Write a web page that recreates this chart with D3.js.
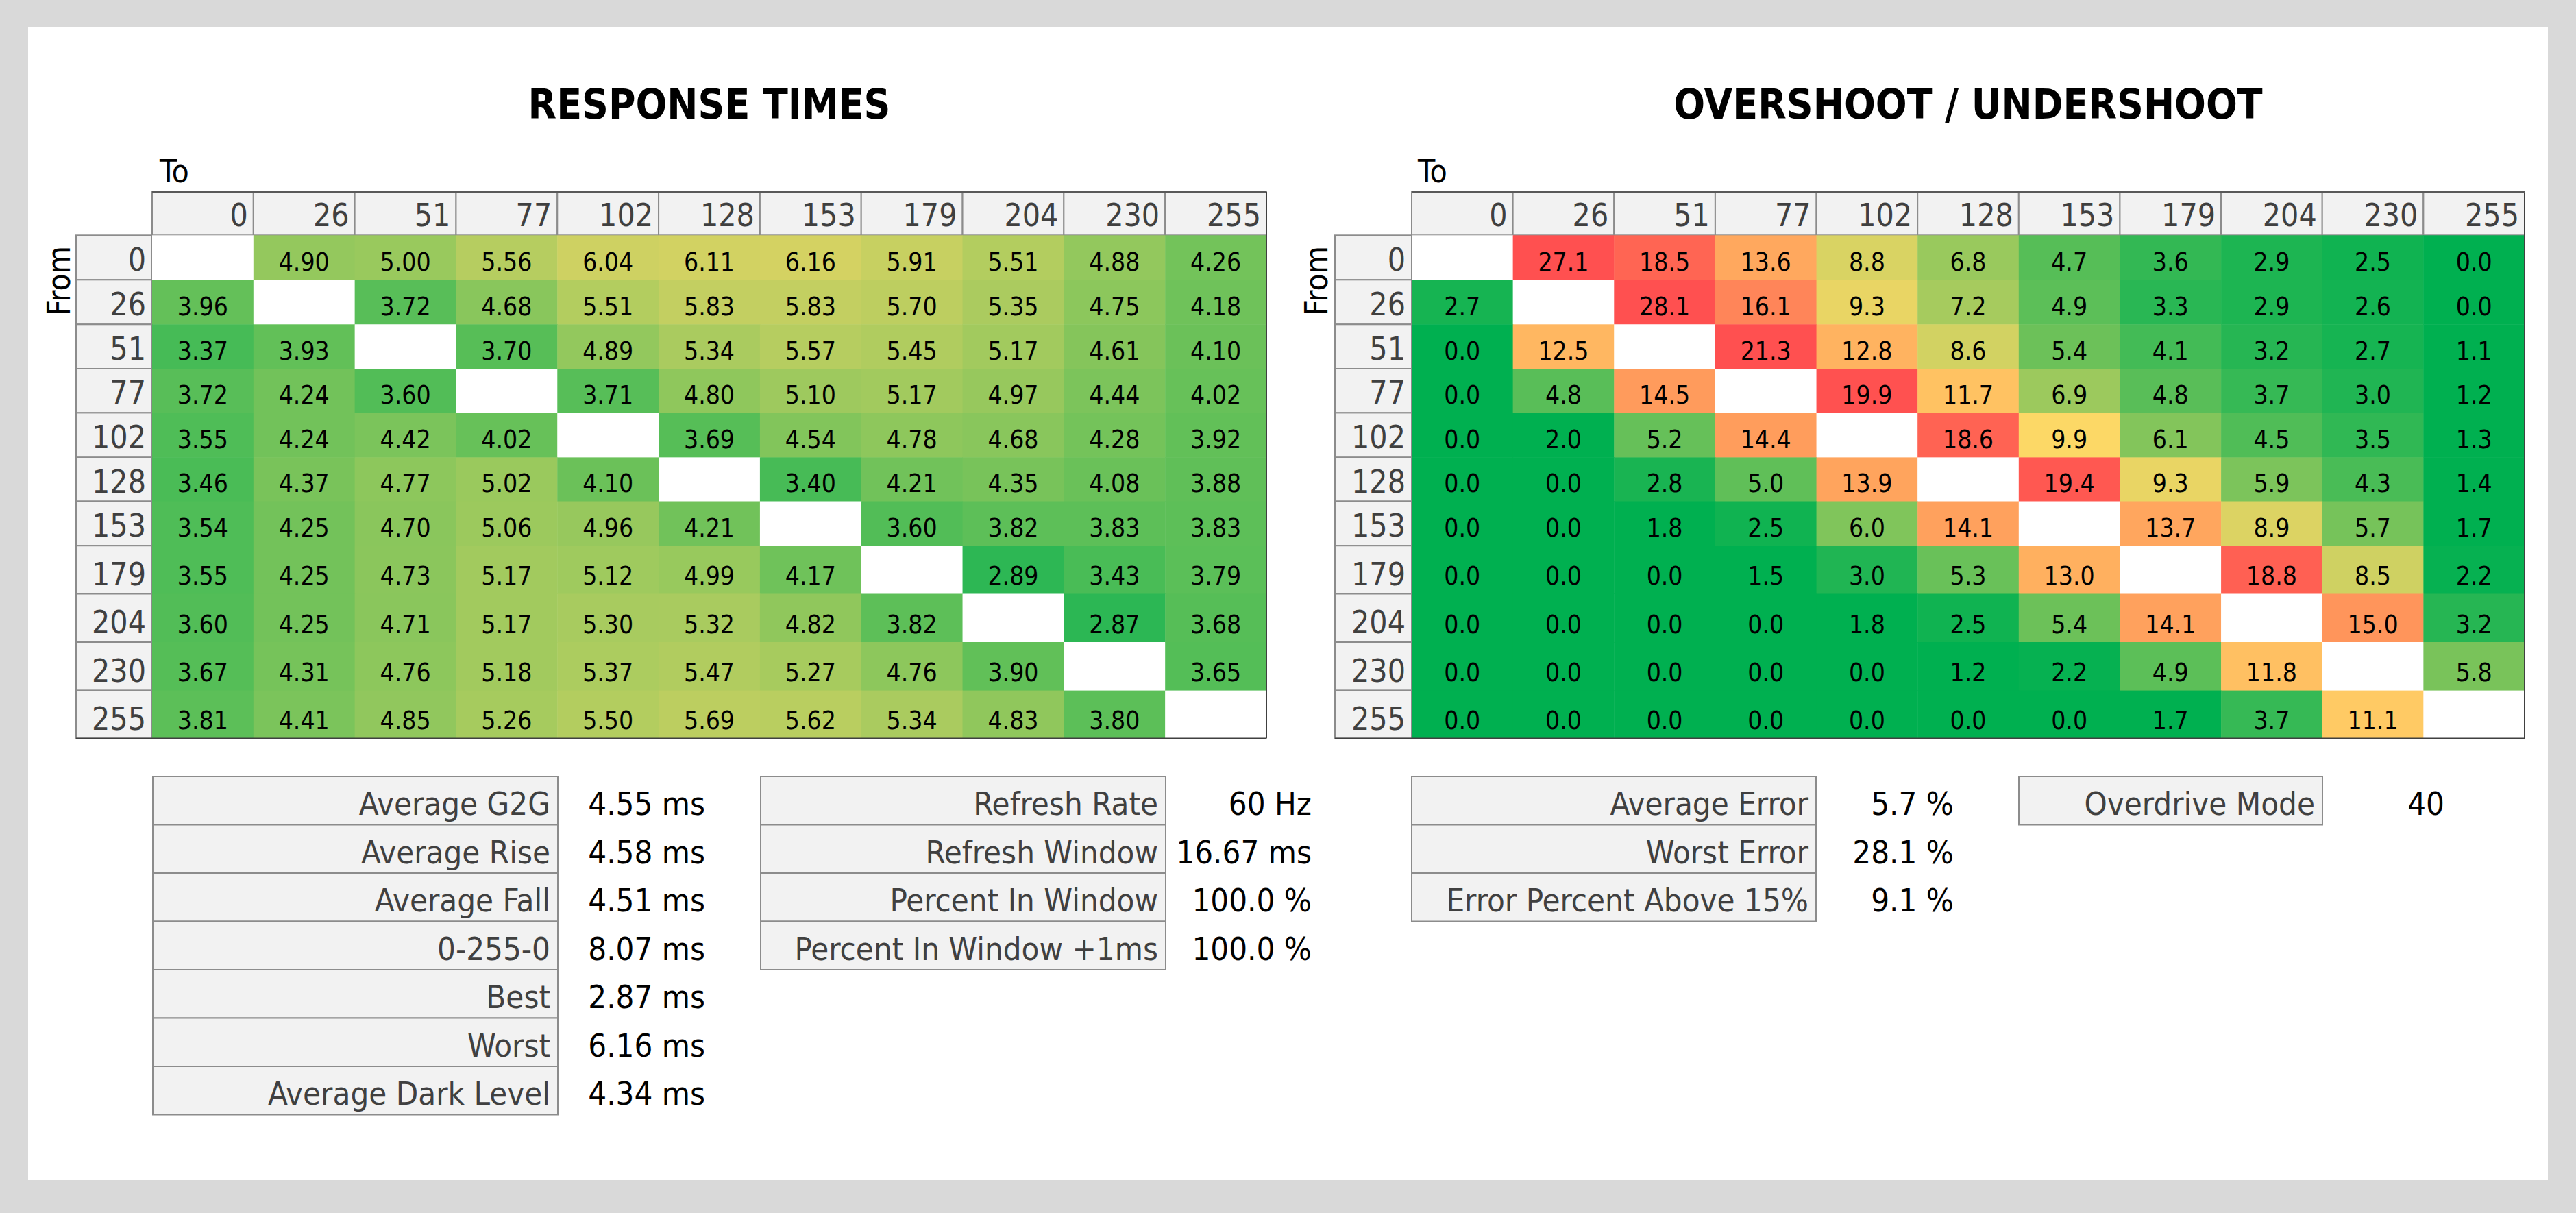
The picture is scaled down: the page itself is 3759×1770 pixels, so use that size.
<!DOCTYPE html>
<html><head><meta charset="utf-8">
<script src="https://cdn.jsdelivr.net/npm/d3@7"></script>
<style>
html,body{margin:0;padding:0;background:#d9d9d9;}
svg{display:block;}
text{font-family:'DejaVu Sans Condensed','DejaVu Sans',sans-serif;}
</style>
</head><body>
<svg id="c" width="3759" height="1770"></svg>
<script>
// ---------- DATA ----------
const levels = [0, 26, 51, 77, 102, 128, 153, 179, 204, 230, 255];

// Response times (ms): rows = From, columns = To
const responseTimes = [
  [null, 4.90, 5.00, 5.56, 6.04, 6.11, 6.16, 5.91, 5.51, 4.88, 4.26],
  [3.96, null, 3.72, 4.68, 5.51, 5.83, 5.83, 5.70, 5.35, 4.75, 4.18],
  [3.37, 3.93, null, 3.70, 4.89, 5.34, 5.57, 5.45, 5.17, 4.61, 4.10],
  [3.72, 4.24, 3.60, null, 3.71, 4.80, 5.10, 5.17, 4.97, 4.44, 4.02],
  [3.55, 4.24, 4.42, 4.02, null, 3.69, 4.54, 4.78, 4.68, 4.28, 3.92],
  [3.46, 4.37, 4.77, 5.02, 4.10, null, 3.40, 4.21, 4.35, 4.08, 3.88],
  [3.54, 4.25, 4.70, 5.06, 4.96, 4.21, null, 3.60, 3.82, 3.83, 3.83],
  [3.55, 4.25, 4.73, 5.17, 5.12, 4.99, 4.17, null, 2.89, 3.43, 3.79],
  [3.60, 4.25, 4.71, 5.17, 5.30, 5.32, 4.82, 3.82, null, 2.87, 3.68],
  [3.67, 4.31, 4.76, 5.18, 5.37, 5.47, 5.27, 4.76, 3.90, null, 3.65],
  [3.81, 4.41, 4.85, 5.26, 5.50, 5.69, 5.62, 5.34, 4.83, 3.80, null]
];

// Overshoot / undershoot (%): rows = From, columns = To
const overshoot = [
  [null, 27.1, 18.5, 13.6, 8.8, 6.8, 4.7, 3.6, 2.9, 2.5, 0.0],
  [2.7, null, 28.1, 16.1, 9.3, 7.2, 4.9, 3.3, 2.9, 2.6, 0.0],
  [0.0, 12.5, null, 21.3, 12.8, 8.6, 5.4, 4.1, 3.2, 2.7, 1.1],
  [0.0, 4.8, 14.5, null, 19.9, 11.7, 6.9, 4.8, 3.7, 3.0, 1.2],
  [0.0, 2.0, 5.2, 14.4, null, 18.6, 9.9, 6.1, 4.5, 3.5, 1.3],
  [0.0, 0.0, 2.8, 5.0, 13.9, null, 19.4, 9.3, 5.9, 4.3, 1.4],
  [0.0, 0.0, 1.8, 2.5, 6.0, 14.1, null, 13.7, 8.9, 5.7, 1.7],
  [0.0, 0.0, 0.0, 1.5, 3.0, 5.3, 13.0, null, 18.8, 8.5, 2.2],
  [0.0, 0.0, 0.0, 0.0, 1.8, 2.5, 5.4, 14.1, null, 15.0, 3.2],
  [0.0, 0.0, 0.0, 0.0, 0.0, 1.2, 2.2, 4.9, 11.8, null, 5.8],
  [0.0, 0.0, 0.0, 0.0, 0.0, 0.0, 0.0, 1.7, 3.7, 11.1, null]
];

const rtStatLabels  = ["Average G2G", "Average Rise", "Average Fall", "0-255-0", "Best", "Worst", "Average Dark Level"];
const rtStatValues  = ["4.55 ms", "4.58 ms", "4.51 ms", "8.07 ms", "2.87 ms", "6.16 ms", "4.34 ms"];
const refLabels     = ["Refresh Rate", "Refresh Window", "Percent In Window", "Percent In Window +1ms"];
const refValues     = ["60 Hz", "16.67 ms", "100.0 %", "100.0 %"];
const osStatLabels  = ["Average Error", "Worst Error", "Error Percent Above 15%"];
const osStatValues  = ["5.7 %", "28.1 %", "9.1 %"];
const odLabels      = ["Overdrive Mode"];
const odValues      = ["40"];

// ---------- LAYOUT ----------
const W = 3759, H = 1770;
const svg = d3.select("#c");
svg.append("rect").attr("x", 0).attr("y", 0).attr("width", W).attr("height", H).attr("fill", "#d9d9d9");
svg.append("rect").attr("x", 41).attr("y", 40).attr("width", 3677).attr("height", 1682).attr("fill", "#ffffff");

const headerTop = 280, headerBottom = 343.3;
const rowTops = [343.3, 408.3, 473.3, 538, 602.4, 667.4, 731.5, 796.2, 866.5, 937, 1007.6];
const gridBottom = 1077.6;
const yTop = d3.scaleOrdinal().domain(levels).range(rowTops);
const yBot = d3.scaleOrdinal().domain(levels).range(rowTops.slice(1).concat([gridBottom]));

const green = "#00b050", yellow = "#ffd966", red = "#ff5050";
const rtColor = d3.scaleLinear().domain([2.0, 7.0, 12.0]).range([green, yellow, red]).interpolate(d3.interpolateRgb).clamp(true);
const osColor = d3.scaleLinear().domain([2.0, 10.0, 20.0]).range([green, yellow, red]).interpolate(d3.interpolateRgb).clamp(true);

function heatmap(opt) {
  const g = svg.append("g");
  const x = d3.scaleBand().domain(levels).range([opt.x0, opt.x1]).padding(0);
  const bw = x.bandwidth();
  const labelLeft = opt.x0 - opt.labelW;

  // title
  g.append("text").attr("x", (opt.x0 + opt.x1) / 2).attr("y", 173)
    .attr("text-anchor", "middle").attr("font-size", 60).attr("font-weight", "bold")
    .attr("fill", "#000").text(opt.title);

  // "To" label
  g.append("text").attr("x", opt.x0 + opt.toDx).attr("y", 266)
    .attr("font-size", 46).attr("fill", "#000").text("To");

  // "From" label
  g.append("text").attr("transform", `translate(${opt.fromX},410) rotate(-90)`)
    .attr("text-anchor", "middle").attr("font-size", 46).attr("fill", "#000").text("From");

  // header cells
  g.selectAll(".hc").data(levels).join("rect")
    .attr("x", d => x(d)).attr("y", headerTop).attr("width", bw).attr("height", headerBottom - headerTop)
    .attr("fill", "#f2f2f2").attr("stroke", "#8c8c8c").attr("stroke-width", 2);
  g.selectAll(".ht").data(levels).join("text")
    .attr("x", d => x(d) + bw - 8).attr("y", headerBottom - 13)
    .attr("text-anchor", "end").attr("font-size", 46).attr("fill", "#404040").text(d => d);

  // row label cells
  g.selectAll(".rc").data(levels).join("rect")
    .attr("x", labelLeft).attr("y", d => yTop(d)).attr("width", opt.labelW).attr("height", d => yBot(d) - yTop(d))
    .attr("fill", "#f2f2f2").attr("stroke", "#8c8c8c").attr("stroke-width", 2);
  g.selectAll(".rt").data(levels).join("text")
    .attr("x", opt.x0 - 9).attr("y", d => yBot(d) - 13)
    .attr("text-anchor", "end").attr("font-size", 46).attr("fill", "#404040").text(d => d);

  // data cells
  const cells = [];
  opt.values.forEach((row, i) => row.forEach((v, j) => cells.push({from: levels[i], to: levels[j], v})));
  g.selectAll(".cell").data(cells).join("rect")
    .attr("x", d => x(d.to)).attr("y", d => yTop(d.from))
    .attr("width", bw + 0.5).attr("height", d => yBot(d.from) - yTop(d.from) + 0.5)
    .attr("fill", d => d.v == null ? "#ffffff" : opt.color(d.v));
  g.selectAll(".ct").data(cells.filter(d => d.v != null)).join("text")
    .attr("x", d => x(d.to) + bw / 2).attr("y", d => yBot(d.from) - 13.5)
    .attr("text-anchor", "middle").attr("font-size", 37).attr("fill", "#000")
    .text(d => opt.fmt(d.v));

  // outer border right & bottom
  g.append("line").attr("x1", opt.x1).attr("x2", opt.x1).attr("y1", headerTop).attr("y2", gridBottom)
    .attr("stroke", "#404040").attr("stroke-width", 2);
  g.append("line").attr("x1", labelLeft).attr("x2", opt.x1).attr("y1", gridBottom).attr("y2", gridBottom)
    .attr("stroke", "#404040").attr("stroke-width", 2);
  g.append("line").attr("x1", opt.x0).attr("x2", opt.x1).attr("y1", headerTop).attr("y2", headerTop)
    .attr("stroke", "#595959").attr("stroke-width", 2);
}

heatmap({title: "RESPONSE TIMES", x0: 222, x1: 1848, labelW: 111, toDx: 11, fromX: 102,
         values: responseTimes, color: rtColor, fmt: d3.format(".2f")});
heatmap({title: "OVERSHOOT / UNDERSHOOT", x0: 2060, x1: 3684, labelW: 112, toDx: 9, fromX: 1937,
         values: overshoot, color: osColor, fmt: d3.format(".1f")});

function statTable(labels, values, boxX0, boxX1, valRight) {
  const g = svg.append("g");
  const y = d3.scaleBand().domain(labels).range([1133, 1133 + 70.5 * labels.length]).padding(0);
  g.selectAll("rect").data(labels).join("rect")
    .attr("x", boxX0).attr("y", d => y(d)).attr("width", boxX1 - boxX0).attr("height", y.bandwidth())
    .attr("fill", "#f2f2f2").attr("stroke", "#8c8c8c").attr("stroke-width", 2);
  g.selectAll(".lab").data(labels).join("text")
    .attr("x", boxX1 - 11).attr("y", d => y(d) + y.bandwidth() - 14.5)
    .attr("text-anchor", "end").attr("font-size", 47).attr("fill", "#404040").text(d => d);
  g.selectAll(".val").data(labels).join("text")
    .attr("x", valRight).attr("y", d => y(d) + y.bandwidth() - 14.5)
    .attr("text-anchor", "end").attr("font-size", 47).attr("fill", "#000")
    .text((d, i) => values[i]);
}

statTable(rtStatLabels, rtStatValues, 223, 814, 1029);
statTable(refLabels, refValues, 1110, 1701, 1914);
statTable(osStatLabels, osStatValues, 2060, 2650, 2851);
statTable(odLabels, odValues, 2946, 3389, 3567);
</script>
</body></html>
